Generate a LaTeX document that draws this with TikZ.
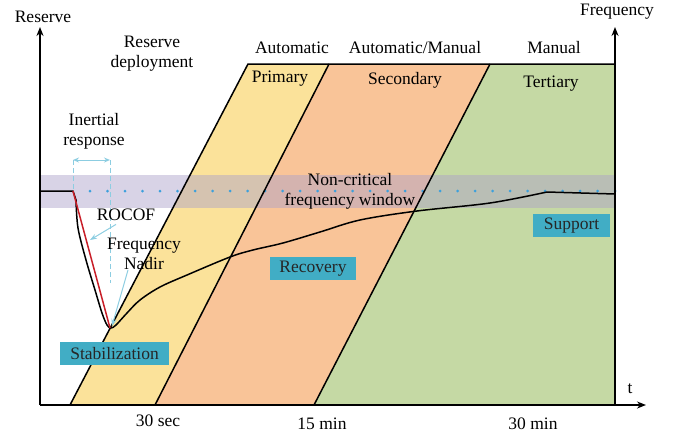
\documentclass[tikz,border=0pt]{standalone}
\usepackage{fontspec}
\setmainfont{Liberation Serif}
\usetikzlibrary{arrows.meta}

\definecolor{primfill}{RGB}{251,226,154}
\definecolor{secfill}{RGB}{249,196,152}
\definecolor{terfill}{RGB}{197,217,164}
\definecolor{bandfill}{RGB}{172,161,202}
\definecolor{stagefill}{RGB}{65,173,197}
\definecolor{dotblue}{RGB}{60,160,220}
\definecolor{guideblue}{RGB}{140,205,225}
\definecolor{rocofred}{RGB}{200,30,40}

\tikzset{
  axis/.style={line width=1.6pt, -{Stealth[length=9pt,width=7pt]}},
  edge/.style={line width=1.5pt},
  stage/.style={fill=stagefill, inner sep=0pt, minimum height=23pt, text=black!85},
  guide/.style={guideblue, line width=1pt, dash pattern=on 5pt off 3pt},
  pointer/.style={guideblue, line width=1pt, -{Stealth[length=7pt,width=5pt]}},
}

\begin{document}
\begin{tikzpicture}[x=1pt, y=-1pt, font=\fontsize{17.5}{20}\selectfont]
\useasboundingbox (0,0) rectangle (679,439);

% reserve regions
\fill[primfill] (70,405) -- (248,64) -- (329,64) -- (155,405) -- cycle;
\fill[secfill] (155,405) -- (329,64) -- (490,64) -- (314,405) -- cycle;
\fill[terfill] (314,405) -- (490,64) -- (615,64) -- (615,405) -- cycle;

% non-critical band
\fill[bandfill, opacity=0.47] (40,175) rectangle (615,208);
\draw[dotblue, line width=3pt, line cap=round, dash pattern=on 0pt off 17.5pt] (90,191) -- (615,191);

% region borders
\draw[edge] (70,405) -- (248,64) -- (615,64);
\draw[edge] (155,405) -- (329,64);
\draw[edge] (314,405) -- (490,64);

% axes
\coordinate (origin) at (40,405);
\coordinate (rorigin) at (615,405);
\draw[axis] (origin) -- (40,27);
\draw[axis] (rorigin) -- (615,27);
\draw[axis] (origin) -- (646,405);

% frequency curve
\coordinate (drop) at (73,191);
\coordinate (nadir) at (110,328);
\draw[line width=1.5pt, line join=round] (40,191) -- (drop) -- plot[smooth, tension=0.55] coordinates {(76,200) (78,228) (86,260) (95,290) (102,313) (107,325) (111,328) (116,325) (127,313) (140,300) (160,287) (187,275) (230,257) (253,250) (283,243) (320,232) (360,220) (417,211) (490,203) (547,192)} -- (615,194);
\draw[rocofred, line width=1.5pt] (drop) -- (nadir);

% inertial response
\coordinate (inl) at (73,160);
\coordinate (inr) at (110,160);
\draw[guide] (inl) -- (73,190);
\draw[guide] (inr) -- (110,283);
\draw[guideblue, line width=1pt, {Stealth[length=6pt,width=5pt,open]}-{Stealth[length=6pt,width=5pt,open]}] (inl) -- (inr);

% labels
\node (reservelbl) at (43,17) {Reserve};
\node (freqlbl) at (617,12) {Frequency};
\node (tlbl) at (630,389) {t};
\node (deploylbl) [align=center] at (152,54) {Reserve\\deployment};
\node (autolbl) at (292,48) {Automatic};
\node (automanlbl) at (415,48) {Automatic/Manual};
\node (manlbl) at (554,48) {Manual};
\node (primlbl) at (280,79) {Primary};
\node (seclbl) at (405,80) {Secondary};
\node (terlbl) at (551,84) {Tertiary};
\node (inertlbl) [align=center] at (94,131) {Inertial\\response};
\node (windowlbl) [align=center, inner sep=0pt] at (350,191) {Non-critical\\frequency window};
\node (rocoflbl) at (126,215) {ROCOF};
\node (nadirlbl) [align=center, inner sep=0pt] at (144,254) {Frequency\\Nadir};
\node (stablbl) [stage, minimum width=109pt] at (114.5,353.5) {Stabilization};
\node (recovlbl) [stage, minimum width=86pt] at (313,268.5) {Recovery};
\node (supplbl) [stage, minimum width=77pt] at (571.5,225.5) {Support};
\node (secmark) at (158,421) {30 sec};
\node (minmark) at (322,424) {15 min};
\node (halfmark) at (533,424) {30 min};

% pointers
\coordinate (rocoftip) at (90,240);
\draw[pointer] ([xshift=-10pt]rocoflbl.south) -- (rocoftip);
\draw[pointer] ([xshift=-16pt]nadirlbl.south) -- ([xshift=2pt,yshift=2pt]nadir);

\end{tikzpicture}
\end{document}
